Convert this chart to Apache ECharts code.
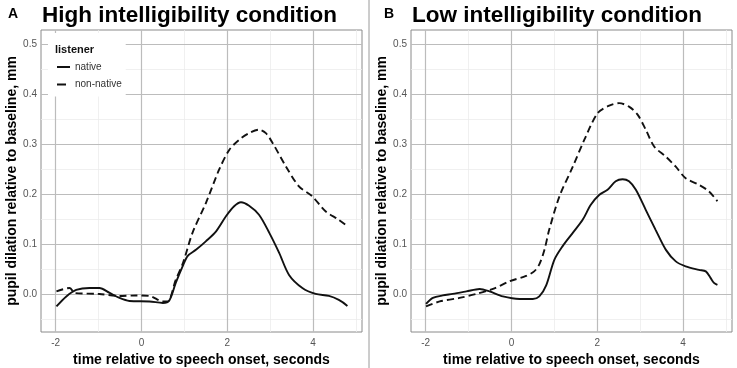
<!DOCTYPE html>
<html>
<head>
<meta charset="utf-8">
<script src="https://cdn.jsdelivr.net/npm/echarts@6/dist/echarts.min.js"></script>
<style>
  html, body { margin: 0; padding: 0; background: #fff; }
  #chart { width: 737px; height: 368px; }
</style>
</head>
<body>
<div id="chart"></div>
<script>
// time (s) / pupil dilation (mm) pairs
var highNative = [
    [-1.98, -0.024], [-1.75, -0.004], [-1.52, 0.009], [-1.21, 0.013], [-0.98, 0.013],
    [-0.74, 0.003], [-0.51, -0.007], [-0.28, -0.013], [0.19, -0.014], [0.5, -0.017],
    [0.65, -0.012], [0.8, 0.023], [0.97, 0.058], [1.08, 0.077], [1.27, 0.089],
    [1.5, 0.106], [1.74, 0.126], [1.97, 0.156], [2.16, 0.176], [2.32, 0.184],
    [2.51, 0.177], [2.74, 0.159], [2.98, 0.123], [3.21, 0.083], [3.44, 0.039],
    [3.75, 0.013], [4.06, 0.001], [4.37, -0.003], [4.6, -0.011], [4.8, -0.023]
];
var highNonNative = [
    [-1.98, 0.006], [-1.67, 0.013], [-1.56, 0.003], [-0.98, 0.001], [-0.51, -0.003],
    [-0.12, -0.002], [0.19, -0.003], [0.5, -0.014], [0.61, -0.014], [0.8, 0.029],
    [0.97, 0.063], [1.19, 0.123], [1.5, 0.182], [1.81, 0.249], [2.05, 0.289],
    [2.28, 0.309], [2.51, 0.322], [2.74, 0.329], [2.9, 0.322], [3.06, 0.302],
    [3.37, 0.255], [3.67, 0.216], [3.98, 0.196], [4.29, 0.166], [4.6, 0.149],
    [4.8, 0.136]
];
var lowNative = [
    [-1.99, -0.019], [-1.83, -0.007], [-1.6, -0.002], [-1.37, 0.001], [-1.05, 0.006],
    [-0.74, 0.011], [-0.51, 0.006], [-0.2, -0.004], [0.19, -0.009], [0.5, -0.009],
    [0.65, -0.004], [0.81, 0.018], [1.0, 0.069], [1.19, 0.096], [1.43, 0.123],
    [1.66, 0.149], [1.85, 0.179], [2.05, 0.199], [2.24, 0.209], [2.43, 0.226],
    [2.59, 0.230], [2.74, 0.226], [2.9, 0.209], [3.13, 0.169], [3.36, 0.129],
    [3.6, 0.089], [3.83, 0.066], [4.06, 0.056], [4.37, 0.049], [4.53, 0.046],
    [4.64, 0.033], [4.72, 0.023], [4.8, 0.019]
];
var lowNonNative = [
    [-1.99, -0.024], [-1.67, -0.014], [-1.21, -0.007], [-0.82, 0.001], [-0.43, 0.011],
    [-0.05, 0.026], [0.34, 0.037], [0.53, 0.046], [0.65, 0.06], [0.77, 0.089],
    [0.88, 0.129], [1.12, 0.196], [1.43, 0.255], [1.7, 0.309], [2.01, 0.362],
    [2.28, 0.377], [2.51, 0.382], [2.74, 0.375], [2.94, 0.359], [3.13, 0.329],
    [3.33, 0.295], [3.6, 0.275], [3.83, 0.255], [4.06, 0.232], [4.37, 0.219],
    [4.6, 0.206], [4.8, 0.186]
];
var xTicks = [-2, 0, 2, 4];
var xMinor = [-1, 1, 3, 5];
var yTicks = [0, 0.1, 0.2, 0.3, 0.4, 0.5];
var yMinor = [-0.05, 0.05, 0.15, 0.25, 0.35, 0.45];
var legendNames = ['native', 'non-native'];

var font = 'Liberation Sans, Arial, sans-serif';
var dash = [7, 4];

var chart = echarts.init(document.getElementById('chart'));

function gridLines() {
    var minor = {color: '#ececec', width: 0.8, type: 'solid'};
    var major = {color: '#bcbcbc', width: 1.2, type: 'solid'};
    var d = [];
    xMinor.forEach(function (v) { d.push({xAxis: v, lineStyle: minor}); });
    yMinor.forEach(function (v) { d.push({yAxis: v, lineStyle: minor}); });
    xTicks.forEach(function (v) { d.push({xAxis: v, lineStyle: major}); });
    yTicks.forEach(function (v) { d.push({yAxis: v, lineStyle: major}); });
    return d;
}

function xAxisFor(i) {
    return {
        type: 'value', gridIndex: i, min: -2.34, max: 5.14,
        splitLine: {show: false},
        axisLine: {show: false},
        axisTick: {show: true, customValues: xTicks, length: 3, lineStyle: {color: '#555'}},
        axisLabel: {customValues: xTicks, color: '#555', fontSize: 10, fontFamily: font, margin: 6},
        name: 'time relative to speech onset, seconds',
        nameLocation: 'middle', nameGap: 12,
        nameTextStyle: {color: '#000', fontSize: 14, fontWeight: 'bold', fontFamily: font}
    };
}

function yAxisFor(i) {
    return {
        type: 'value', gridIndex: i, min: -0.075, max: 0.528,
        splitLine: {show: false},
        axisLine: {show: false},
        axisTick: {show: true, customValues: yTicks, length: 3, lineStyle: {color: '#555'}},
        axisLabel: {
            customValues: yTicks, color: '#555', fontSize: 10, fontFamily: font, margin: 4,
            formatter: function (v) { return v.toFixed(1); }
        },
        name: 'pupil dilation relative to baseline, mm',
        nameLocation: 'middle', nameGap: 18,
        nameTextStyle: {color: '#000', fontSize: 14, fontWeight: 'bold', fontFamily: font}
    };
}

function lineSeries(name, data, i, dashed) {
    return {
        name: name, type: 'line', xAxisIndex: i, yAxisIndex: i,
        data: data, symbol: 'none', smooth: 0.3, z: 3,
        lineStyle: {color: '#111', width: 1.9, type: dashed ? dash : 'solid'},
        itemStyle: {color: '#111'}
    };
}

function gridSeries(i) {
    return {
        type: 'line', xAxisIndex: i, yAxisIndex: i, data: [], z: 1,
        markLine: {symbol: 'none', silent: true, z: 1, label: {show: false}, animation: false, data: gridLines()}
    };
}

chart.setOption({
    animation: false,
    title: [
        {text: 'A', left: 3, top: 2, textStyle: {fontSize: 14, fontWeight: 'bold', color: '#000', fontFamily: font}},
        {text: 'High intelligibility condition', left: 37, top: -1, textStyle: {fontSize: 22.5, fontWeight: 'bold', color: '#000', fontFamily: font}},
        {text: 'B', left: 379, top: 2, textStyle: {fontSize: 14, fontWeight: 'bold', color: '#000', fontFamily: font}},
        {text: 'Low intelligibility condition', left: 407, top: -1, textStyle: {fontSize: 22.5, fontWeight: 'bold', color: '#000', fontFamily: font}}
    ],
    grid: [
        {left: 41, top: 30, width: 321, height: 302, outerBoundsMode: 'none', show: true, borderColor: '#8a8a8a', borderWidth: 1, backgroundColor: 'transparent'},
        {left: 411, top: 30, width: 321, height: 302, outerBoundsMode: 'none', show: true, borderColor: '#8a8a8a', borderWidth: 1, backgroundColor: 'transparent'}
    ],
    xAxis: [xAxisFor(0), xAxisFor(1)],
    yAxis: [yAxisFor(0), yAxisFor(1)],
    legend: {
        data: [
            {name: legendNames[0], icon: 'path://M0,4H13V6H0Z M0,0L0,10 M13,0L13,10'},
            {name: legendNames[1], icon: 'path://M0,4H9V6H0Z M0,0L0,10 M13,0L13,10'}
        ],
        orient: 'vertical',
        left: 48, top: 33,
        padding: [29, 4, 7, 9],
        backgroundColor: '#fff',
        itemWidth: 13, itemHeight: 10, itemGap: 7.5,
        textStyle: {fontSize: 10, color: '#333', fontFamily: font},
        z: 6
    },
    graphic: [
        {type: 'text', left: 55, top: 44, z: 10,
            style: {text: 'listener', font: 'bold 11px ' + font, fill: '#111'}},
        {type: 'line', z: 10, shape: {x1: 369, y1: 0, x2: 369, y2: 368},
            style: {stroke: '#9a9a9a', lineWidth: 1}}
    ],
    series: [
        gridSeries(0),
        gridSeries(1),
        lineSeries('native', highNative, 0, false),
        lineSeries('non-native', highNonNative, 0, true),
        lineSeries('native', lowNative, 1, false),
        lineSeries('non-native', lowNonNative, 1, true)
    ]
});
</script>
</body>
</html>
